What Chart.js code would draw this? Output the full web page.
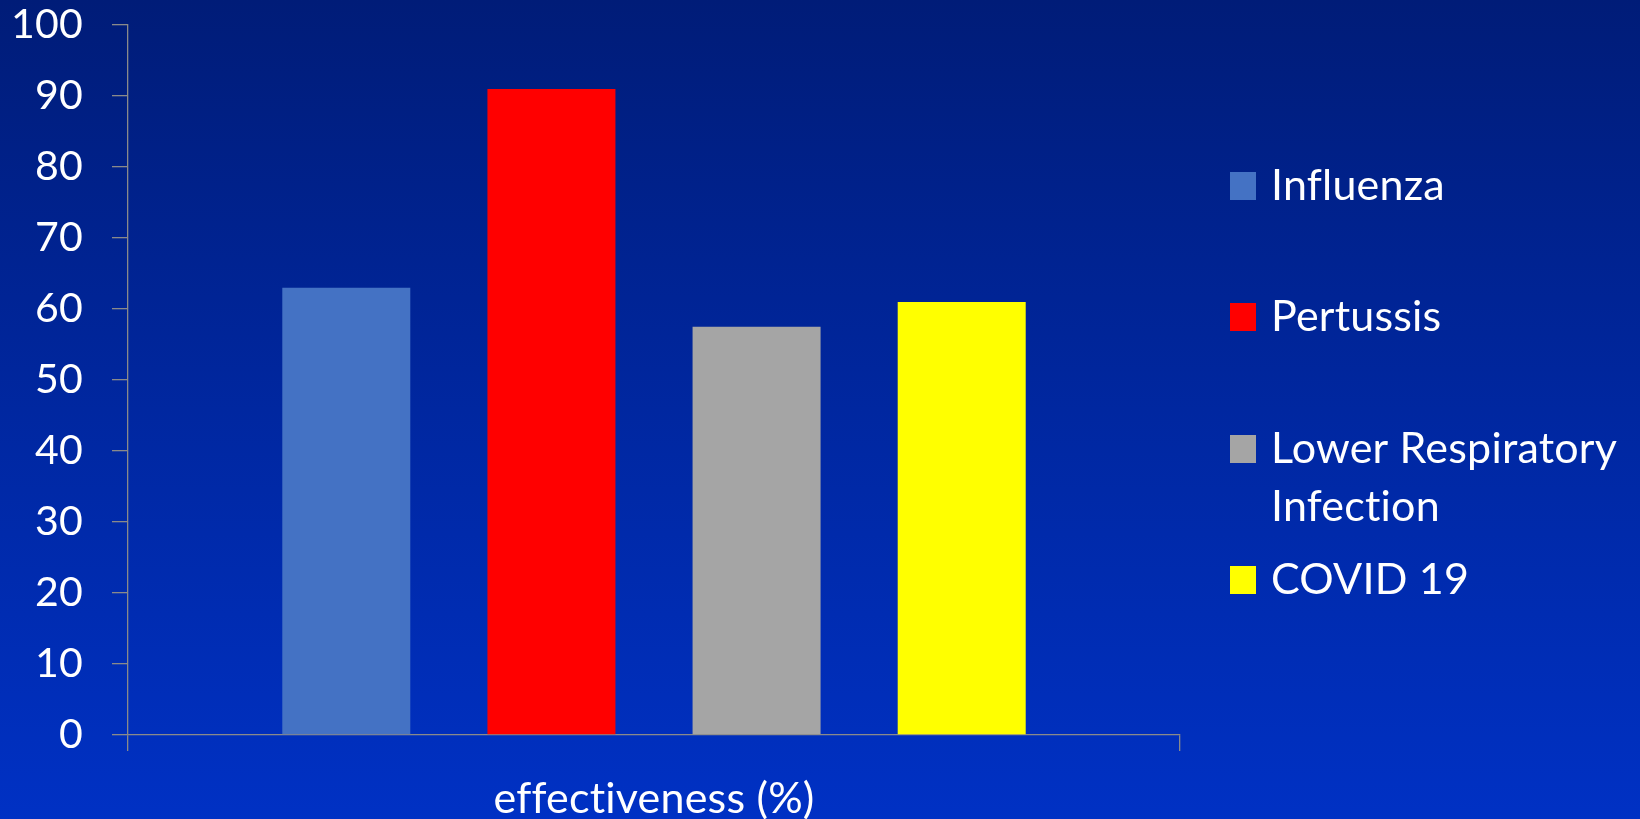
<!DOCTYPE html>
<html>
<head>
<meta charset="utf-8">
<script src="https://cdn.jsdelivr.net/npm/chart.js@4/dist/chart.umd.min.js"></script>
<style>
  html, body { margin: 0; padding: 0; }
  body {
    width: 1640px; height: 819px; overflow: hidden;
    background: linear-gradient(to bottom, #001c78 0%, #0027a0 50%, #0031c4 100%);
  }
  #wrap { position: relative; width: 1640px; height: 819px; }
  canvas { font-variant-ligatures: none; }
</style>
</head>
<body>
<div id="wrap"><canvas id="chart" width="1640" height="819"></canvas></div>
<script>
// Vaccine effectiveness by disease
const categories = ['effectiveness (%)'];
const seriesNames = ['Influenza', 'Pertussis', 'Lower Respiratory Infection', 'COVID 19'];
const legendLines = [['Influenza'], ['Pertussis'], ['Lower Respiratory', 'Infection'], ['COVID 19']];
const influenza = [63];
const pertussis = [91];
const lowerRespiratory = [57.5];
const covid19 = [61];
const yTicks = [0, 10, 20, 30, 40, 50, 60, 70, 80, 90, 100];

const seriesColors = ['#4472C4', '#FF0000', '#A5A5A5', '#FFFF00'];
const FONT = 'Lato, "Noto Sans", sans-serif';
const AXIS_GRAY = '#8a8a8a';

// Plain glyphs: keep "fl"/"ffi" from turning into ligatures
function plainText(ctx) {
  ctx.letterSpacing = '0.2px';
  if ('textRendering' in ctx) ctx.textRendering = 'optimizeSpeed';
}
const noLigatures = {
  id: 'noLigatures',
  beforeDraw(chart) { plainText(chart.ctx); }
};

// Legend on the right, with wrapped entries
const sideLegend = {
  id: 'sideLegend',
  afterDraw(chart) {
    const ctx = chart.ctx;
    const boxX = 1230, textX = 1271, box = 27;
    const rowTops = [172, 303, 435, 566];
    const lineH = 58;
    ctx.save();
    plainText(ctx);
    ctx.font = '43px ' + FONT;
    ctx.textBaseline = 'middle';
    ctx.textAlign = 'left';
    chart.data.datasets.forEach((ds, i) => {
      const top = rowTops[i];
      ctx.fillStyle = ds.backgroundColor;
      ctx.fillRect(boxX, top, box - 1, box + 1);
      ctx.fillStyle = '#ffffff';
      legendLines[i].forEach((line, j) => {
        ctx.fillText(line, textX, top + box / 2 + 1 + j * lineH);
      });
    });
    ctx.restore();
  }
};

const datasets = [influenza, pertussis, lowerRespiratory, covid19].map((vals, i) => ({
  label: seriesNames[i],
  data: vals,
  backgroundColor: seriesColors[i],
  borderWidth: 0,
  categoryPercentage: 0.78,
  barPercentage: 0.624
}));

new Chart(document.getElementById('chart'), {
  type: 'bar',
  data: { labels: categories, datasets },
  options: {
    responsive: false,
    animation: false,
    layout: { padding: { top: 25, right: 460, bottom: 0, left: 0 } },
    plugins: {
      legend: { display: false },
      tooltip: { enabled: false }
    },
    scales: {
      x: {
        offset: true,
        grid: {
          offset: true,
          drawOnChartArea: false,
          drawTicks: true,
          tickLength: 16,
          color: AXIS_GRAY,
          lineWidth: 1.3
        },
        border: { display: true, color: AXIS_GRAY, width: 1.3 },
        ticks: {
          color: '#ffffff',
          font: { family: FONT, size: 43 },
          padding: 22
        },
        afterFit(scale) {
          scale.height = 84;
          scale.paddingLeft = 0;
          scale.paddingRight = 0;
        }
      },
      y: {
        min: 0,
        max: 100,
        afterBuildTicks(scale) { scale.ticks = yTicks.map(v => ({ value: v })); },
        grid: {
          drawOnChartArea: false,
          drawTicks: true,
          tickLength: 16,
          color: AXIS_GRAY,
          lineWidth: 1.3
        },
        border: { display: true, color: AXIS_GRAY, width: 1.3 },
        ticks: {
          color: '#ffffff',
          font: { family: FONT, size: 41 },
          padding: 29
        },
        afterFit(scale) {
          scale.width = 128;
          scale.paddingTop = 0;
          scale.paddingBottom = 0;
        }
      }
    }
  },
  plugins: [noLigatures, sideLegend]
});
</script>
</body>
</html>
